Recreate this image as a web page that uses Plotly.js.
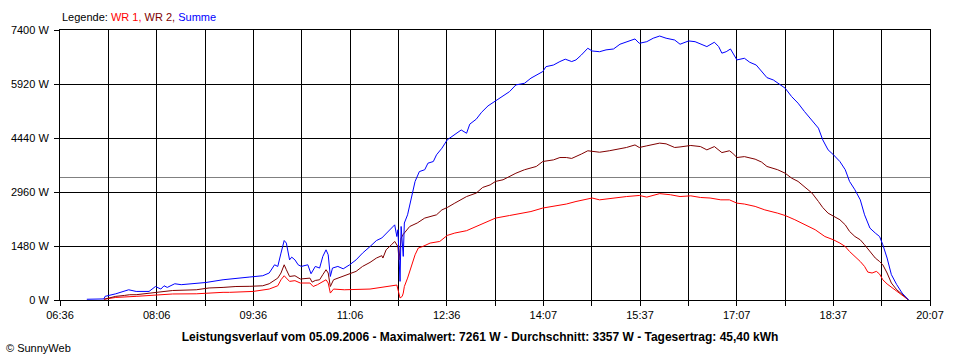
<!DOCTYPE html>
<html>
<head>
<meta charset="utf-8">
<script src="https://cdn.plot.ly/plotly-3.0.1.min.js"></script>
<style>
  html, body { margin: 0; padding: 0; background: #ffffff; }
  #chart { width: 960px; height: 360px; }
</style>
</head>
<body>
<div id="chart"></div>
<script>
// ---- Data ----
const wr1Times = ["07:17","07:28","07:47","08:05","08:21","08:43","08:52","09:08","09:14","09:36","09:51","09:59","10:02","10:05","10:07","10:10","10:15","10:20","10:29","10:32","10:36","10:41","10:44","10:46","10:48","10:51","11:01","11:25","11:43","11:50","11:53","11:55","11:56","11:57","12:00","12:04","12:07","12:10","12:14","12:21","12:30","12:37","12:44","12:55","13:04","13:10","13:22","13:35","13:45","13:55","14:06","14:16","14:28","14:37","14:52","14:59","15:12","15:24","15:36","15:43","15:55","16:05","16:14","16:24","16:33","16:42","16:52","17:00","17:07","17:14","17:24","17:33","17:45","17:52","18:01","18:10","18:20","18:29","18:37","18:43","18:48","18:52","18:57","19:02","19:06","19:09","19:13","19:17","19:20","19:23","19:27","19:32","19:36","19:41","19:45","19:47"];
const wr1Values = [20,70,100,145,165,170,190,210,210,235,300,390,555,665,600,510,530,465,465,370,420,510,555,465,190,300,280,300,370,410,55,100,190,370,600,965,1240,1425,1465,1560,1605,1770,1835,1900,2015,2110,2245,2315,2380,2425,2520,2565,2630,2700,2795,2745,2795,2835,2865,2820,2915,2885,2835,2855,2810,2795,2745,2745,2655,2630,2565,2470,2380,2315,2200,2060,1925,1740,1650,1560,1465,1330,1195,1055,920,765,740,785,710,555,440,330,235,125,35,0];

const wr2Times = ["07:17","07:28","07:36","07:41","07:47","08:05","08:13","08:21","08:43","08:55","09:08","09:20","09:33","09:45","09:51","09:59","10:02","10:05","10:07","10:10","10:15","10:20","10:29","10:31","10:34","10:38","10:41","10:44","10:46","10:48","10:51","11:00","11:06","11:12","11:18","11:25","11:31","11:36","11:37","11:40","11:45","11:48","11:51","11:52","11:54","11:56","12:02","12:09","12:16","12:23","12:27","12:32","12:37","12:44","12:50","12:55","13:04","13:10","13:17","13:22","13:29","13:35","13:41","13:49","13:55","14:00","14:06","14:16","14:22","14:28","14:33","14:37","14:42","14:48","14:52","14:59","15:08","15:18","15:24","15:32","15:36","15:43","15:49","15:55","16:01","16:09","16:14","16:24","16:33","16:39","16:46","16:53","17:00","17:03","17:07","17:14","17:24","17:30","17:35","17:45","17:52","17:58","18:04","18:10","18:17","18:23","18:27","18:32","18:37","18:43","18:48","18:52","18:57","19:02","19:06","19:11","19:16","19:20","19:23","19:27","19:31","19:36","19:41","19:45","19:47"];
const wr2Values = [20,100,125,145,145,210,235,260,280,330,345,370,375,390,445,600,740,965,830,645,665,575,600,490,535,555,695,830,740,370,555,645,720,785,920,1030,1150,1215,1150,1375,1515,1605,1465,1100,1700,1800,2015,2110,2245,2290,2335,2470,2535,2655,2745,2835,2930,3085,3155,3250,3295,3385,3475,3570,3615,3660,3795,3840,3905,3905,3880,3930,4000,4090,4070,4050,4090,4135,4180,4250,4180,4225,4270,4300,4280,4180,4195,4235,4205,4115,4205,4040,4090,4025,3905,3930,3860,3780,3660,3570,3475,3340,3250,3110,2930,2700,2535,2380,2290,2200,2060,1880,1740,1650,1515,1330,1150,1055,965,740,465,280,165,55,0];

const sumTimes = ["07:01","07:17","07:18","07:28","07:40","07:47","07:59","08:05","08:10","08:13","08:16","08:23","08:29","08:43","08:52","09:08","09:20","09:33","09:45","09:51","09:56","09:59","10:02","10:05","10:07","10:08","10:10","10:12","10:15","10:18","10:21","10:27","10:30","10:34","10:38","10:41","10:44","10:46","10:48","10:50","10:55","11:00","11:06","11:12","11:18","11:25","11:31","11:36","11:40","11:45","11:48","11:50","11:51","11:53","11:54","11:56","11:57","12:00","12:04","12:07","12:11","12:16","12:19","12:24","12:27","12:32","12:37","12:44","12:50","12:55","12:58","13:04","13:09","13:15","13:22","13:29","13:35","13:41","13:49","13:55","14:00","14:06","14:09","14:16","14:22","14:27","14:33","14:37","14:42","14:48","14:52","14:59","15:05","15:12","15:18","15:24","15:32","15:36","15:43","15:49","15:55","16:01","16:09","16:14","16:22","16:28","16:34","16:39","16:46","16:50","16:53","16:57","17:01","17:04","17:07","17:14","17:19","17:25","17:30","17:35","17:41","17:45","17:52","17:58","18:04","18:10","18:17","18:23","18:27","18:32","18:37","18:43","18:48","18:52","18:57","19:02","19:06","19:11","19:16","19:20","19:23","19:27","19:31","19:36","19:41","19:45","19:47"];
const sumValues = [20,30,100,170,280,235,235,370,300,390,345,445,420,465,480,555,600,630,665,740,965,920,1285,1630,1560,1375,1100,1175,1100,965,920,965,720,920,875,1195,1375,1240,645,875,920,855,965,1100,1285,1465,1630,1700,1815,1970,2060,1740,1925,510,2015,1195,2110,2335,2835,3250,3520,3570,3750,3795,3980,4160,4390,4525,4660,4570,4820,4955,5145,5320,5455,5575,5710,5895,5940,6080,6170,6260,6395,6440,6535,6600,6535,6580,6715,6900,6825,6805,6855,6880,7010,7065,7155,7035,7080,7175,7235,7175,7125,7010,7100,7080,7010,6945,7065,6945,6765,6805,6880,6715,6580,6625,6515,6440,6260,6095,6030,5940,5805,5575,5395,5165,4935,4710,4390,4115,3980,3795,3570,3250,3020,2745,2335,1970,1835,1740,1515,1150,695,420,190,55,0];

const averageW = 3357;
const xTickLabels = ["06:36","08:06","09:36","11:06","12:36","14:07","15:37","17:07","18:37","20:07"];
const yTickValues = [0,1480,2960,4440,5920,7400];
const seriesNames = ["WR 1","WR 2","Summe"];
const titleText = "Leistungsverlauf vom 05.09.2006 - Maximalwert: 7261 W - Durchschnitt: 3357 W - Tagesertrag: 45,40 kWh";

// ---- Helpers ----
function toMin(s) { const p = s.split(":"); return (+p[0]) * 60 + (+p[1]); }
const xStart = toMin(xTickLabels[0]);
const xEnd = toMin(xTickLabels[xTickLabels.length - 1]);
const nGrid = (xTickLabels.length - 1) * 2;
const gridVals = [], gridText = [];
for (let i = 0; i <= nGrid; i++) {
  gridVals.push(xStart + (xEnd - xStart) * i / nGrid);
  gridText.push(i % 2 === 0 ? xTickLabels[i / 2] : "");
}

const FONT = "Liberation Sans, Arial, sans-serif";
const colors = ["#ff0000", "#800000", "#0000ff"];

const traces = [
  { x: wr1Times.map(toMin), y: wr1Values, name: seriesNames[0], type: "scatter", mode: "lines", line: { color: colors[0], width: 1, shape: "linear" }, hoverinfo: "skip" },
  { x: wr2Times.map(toMin), y: wr2Values, name: seriesNames[1], type: "scatter", mode: "lines", line: { color: colors[1], width: 1, shape: "linear" }, hoverinfo: "skip" },
  { x: sumTimes.map(toMin), y: sumValues, name: seriesNames[2], type: "scatter", mode: "lines", line: { color: colors[2], width: 1, shape: "linear" }, hoverinfo: "skip" }
];

const layout = {
  width: 960, height: 360,
  paper_bgcolor: "#ffffff", plot_bgcolor: "#ffffff",
  margin: { l: 60, r: 30, t: 30, b: 60 },
  showlegend: false,
  font: { family: FONT, size: 11, color: "#000000" },
  title: {
    text: "<b>" + titleText + "</b>",
    font: { family: FONT, size: 12, color: "#000000" },
    x: 0.5, xanchor: "center", xref: "container",
    y: 1 - 337 / 360, yanchor: "middle", yref: "container"
  },
  xaxis: {
    range: [xStart, xEnd],
    tickmode: "array", tickvals: gridVals, ticktext: gridText,
    ticks: "outside", ticklen: 5, tickcolor: "#000000", tickwidth: 1,
    showgrid: true, gridcolor: "#000000", gridwidth: 1,
    showline: true, linecolor: "#000000", linewidth: 1, mirror: true,
    zeroline: false,
    tickfont: { family: FONT, size: 11, color: "#000000" },
    fixedrange: true
  },
  yaxis: {
    range: [0, yTickValues[yTickValues.length - 1]],
    tickmode: "array", tickvals: yTickValues, ticktext: yTickValues.map(v => v + " W"),
    ticks: "outside", ticklen: 5, tickcolor: "#000000", tickwidth: 1,
    ticklabelstandoff: 3,
    showgrid: true, gridcolor: "#000000", gridwidth: 1,
    showline: true, linecolor: "#000000", linewidth: 1, mirror: true,
    zeroline: false,
    tickfont: { family: FONT, size: 11, color: "#000000" },
    fixedrange: true
  },
  shapes: [
    { type: "line", xref: "paper", x0: 0, x1: 1, yref: "y", y0: averageW, y1: averageW,
      line: { color: "#808080", width: 1 }, layer: "below" }
  ],
  annotations: [
    { xref: "paper", yref: "paper", x: 0, y: 1, xanchor: "left", yanchor: "bottom", xshift: 0, yshift: 5,
      showarrow: false, align: "left",
      font: { family: FONT, size: 11, color: "#000000" },
      text: "Legende: <span style='color:" + colors[0] + "'>" + seriesNames[0] + ",</span> <span style='color:" + colors[1] + "'>" + seriesNames[1] + ",</span> <span style='color:" + colors[2] + "'>" + seriesNames[2] + "</span>" },
    { xref: "paper", yref: "paper", x: -56 / 870, y: -48 / 270, xanchor: "left", yanchor: "middle",
      showarrow: false, font: { family: FONT, size: 11, color: "#000000" }, text: "© SunnyWeb" }
  ]
};

Plotly.newPlot("chart", traces, layout, { staticPlot: true, displayModeBar: false });
</script>
</body>
</html>
